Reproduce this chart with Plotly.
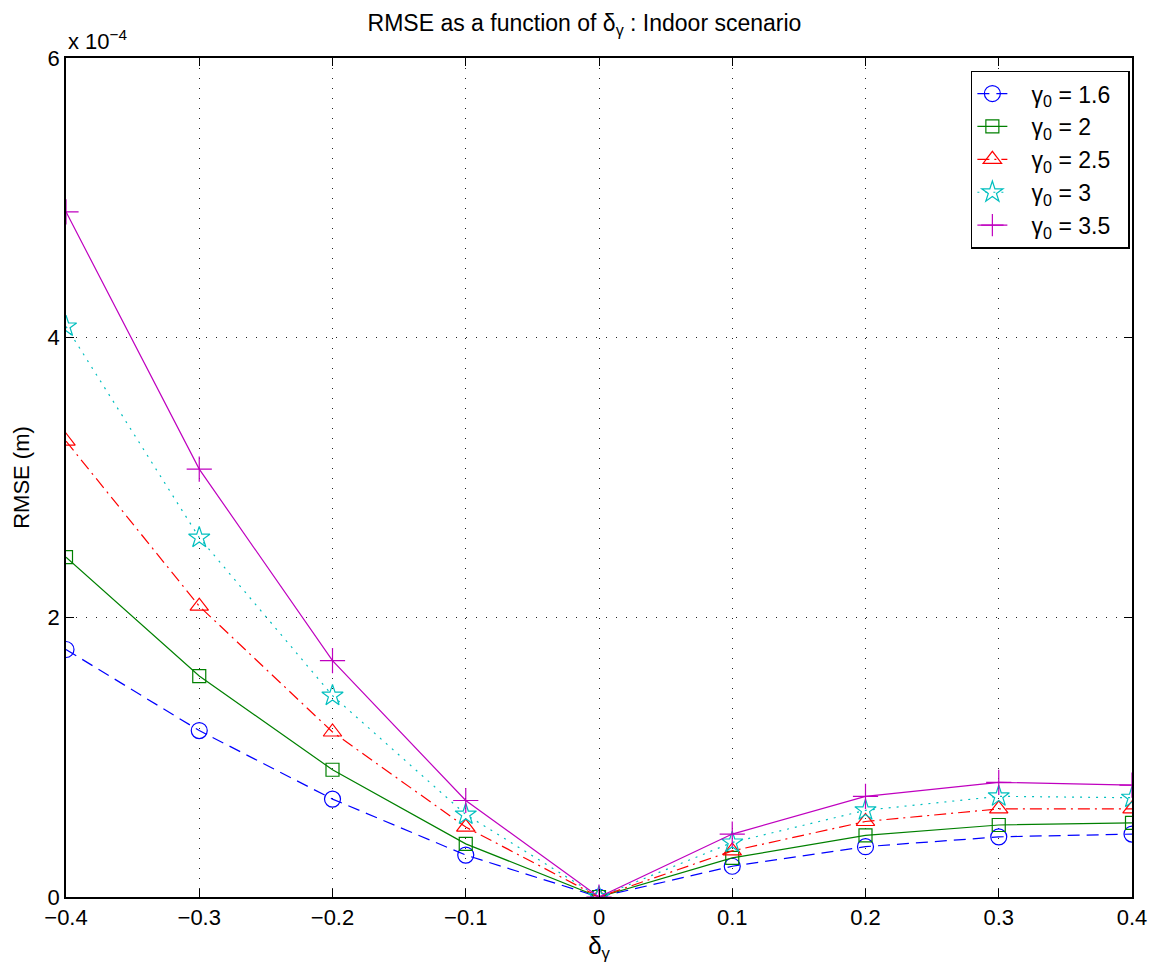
import plotly.graph_objects as go

delta = [-0.4, -0.3, -0.2, -0.1, 0.0, 0.1, 0.2, 0.3, 0.4]
# RMSE values in units of 1e-4 m
rmse_16 = [1.77, 1.19, 0.70, 0.30, 0.0, 0.22, 0.36, 0.43, 0.45]
rmse_2 = [2.43, 1.58, 0.91, 0.38, 0.0, 0.28, 0.44, 0.515, 0.53]
rmse_25 = [3.26, 2.08, 1.18, 0.50, 0.0, 0.33, 0.54, 0.63, 0.63]
rmse_3 = [4.08, 2.57, 1.44, 0.59, 0.0, 0.39, 0.62, 0.72, 0.71]
rmse_35 = [4.90, 3.06, 1.69, 0.69, 0.0, 0.45, 0.72, 0.82, 0.80]

pad = "\u00a0\u00a0\u00a0"
labels = [pad + "γ<sub>0</sub> = 1.6\u00a0\u00a0", pad + "γ<sub>0</sub> = 2",
          pad + "γ<sub>0</sub> = 2.5", pad + "γ<sub>0</sub> = 3", pad + "γ<sub>0</sub> = 3.5"]
series = [rmse_16, rmse_2, rmse_25, rmse_3, rmse_35]
colors = ["#0000ff", "#008000", "#ff0000", "#00bfbf", "#bf00bf"]
dashes = ["12px,7px", "solid", "12px,5px,2px,5px", "2px,6px", "solid"]
symbols = ["circle-open", "square-open", "triangle-up-open", "star-open", "cross-thin-open"]
sizes = [16, 13, 16, 16, 18]

fig = go.Figure()
for i, (lab, ys, c, d, s, sz) in enumerate(zip(labels, series, colors, dashes, symbols, sizes)):
    fig.add_trace(go.Scatter(
        x=delta, y=ys, name=lab, mode="lines+markers", legendgroup=f"g{i}",
        line=dict(color=c, width=1.2, dash=d),
        marker=dict(symbol=s, size=sz, color=c, line=dict(color=c, width=1.2)),
    ))

font = "Liberation Sans, Arial, sans-serif"
fig.update_layout(
    width=1153, height=964,
    margin=dict(l=58, r=29, t=50, b=75),
    plot_bgcolor="white", paper_bgcolor="white",
    font=dict(family=font, size=20, color="black"),
    title=dict(text="RMSE as a function of δ<sub>γ</sub> : Indoor scenario",
               x=0.5, xanchor="center", y=0.993, yanchor="top",
               font=dict(size=23)),
    showlegend=True,
    legend=dict(x=0.998, xanchor="right", y=0.985, yanchor="top",
                bgcolor="white", bordercolor="black", borderwidth=1.5,
                font=dict(size=23), tracegroupgap=0),
    xaxis=dict(range=[-0.4, 0.4], tickvals=delta,
               ticktext=["−0.4", "−0.3", "−0.2", "−0.1", "0", "0.1", "0.2", "0.3", "0.4"],
               showline=True, linecolor="black", linewidth=1.5, mirror="allticks",
               ticks="inside", ticklen=8, tickcolor="black",
               showgrid=True, gridcolor="#222222", griddash="1px,9px", gridwidth=1,
               zeroline=False, tickfont=dict(size=22),
               title=dict(text="δ<sub>γ</sub>", font=dict(size=24), standoff=8)),
    yaxis=dict(range=[0, 6], tickvals=[0, 2, 4, 6],
               showline=True, linecolor="black", linewidth=1.5, mirror="allticks",
               ticks="inside", ticklen=8, tickcolor="black",
               showgrid=True, gridcolor="#222222", griddash="1px,9px", gridwidth=1,
               zeroline=False, tickfont=dict(size=22),
               title=dict(text="RMSE (m)", font=dict(size=22), standoff=12)),
)
fig.add_annotation(text="x 10<sup>−4</sup>", xref="paper", yref="paper",
                   x=0.0, y=1.0, xanchor="left", yanchor="bottom", yshift=2,
                   showarrow=False, font=dict(size=22))

fig.write_html("out.html")
